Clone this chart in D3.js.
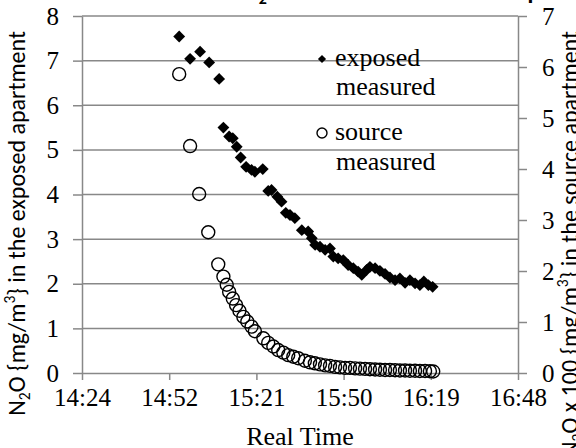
<!DOCTYPE html>
<html><head><meta charset="utf-8">
<script src="https://cdn.jsdelivr.net/npm/d3@7"></script>
</head>
<body style="margin:0">
<svg id="chart" width="576" height="448"></svg>
<script>
// ---- data ----
const xTickLabels = ["14:24","14:52","15:21","15:50","16:19","16:48"];
const leftTicks = [0,1,2,3,4,5,6,7,8];
const rightTicks = [0,1,2,3,4,5,6,7];

const exposedTime = ["14:56:06","14:59:42","15:03:00","15:06:00","15:09:18","15:10:42","15:12:36","15:13:48","15:15:06","15:16:24","15:18:12","15:20:00","15:21:06","15:23:42","15:25:30","15:26:36","15:28:30","15:29:54","15:31:18","15:32:42","15:34:18","15:36:36","15:38:42","15:39:54","15:41:00","15:42:36","15:44:18","15:45:54","15:47:00","15:48:36","15:50:18","15:51:54","15:53:36","15:55:12","15:56:24","15:58:00","15:59:06","16:00:48","16:02:24","16:04:06","16:05:42","16:07:24","16:09:00","16:10:42","16:12:18","16:14:00","16:15:36","16:16:54","16:18:24","16:19:48"];
const exposedValue = [7.54,7.04,7.20,6.96,6.59,5.50,5.30,5.26,5.07,4.83,4.62,4.55,4.51,4.57,4.08,4.10,3.95,3.84,3.59,3.54,3.47,3.20,3.17,3.02,2.87,2.83,2.76,2.79,2.61,2.57,2.53,2.42,2.35,2.27,2.20,2.31,2.38,2.35,2.29,2.22,2.14,2.08,2.12,2.02,2.08,2.01,1.97,2.05,1.97,1.93];

const sourceTime = ["14:56:06","14:59:42","15:02:42","15:05:42","15:09:00","15:10:42","15:11:48","15:12:36","15:13:48","15:14:54","15:16:00","15:17:18","15:18:36","15:20:00","15:21:06","15:23:54","15:25:30","15:27:12","15:28:48","15:30:30","15:32:06","15:33:48","15:35:24","15:37:36","15:39:18","15:40:54","15:42:36","15:44:18","15:45:54","15:47:36","15:49:12","15:50:54","15:52:30","15:54:12","15:55:48","15:57:30","15:59:06","16:00:48","16:02:24","16:04:06","16:05:42","16:07:24","16:09:00","16:10:42","16:12:18","16:14:00","16:15:36","16:17:18","16:18:54","16:20:00"];
const sourceValue = [5.86,4.45,3.51,2.76,2.13,1.89,1.73,1.59,1.46,1.33,1.22,1.10,1.01,0.91,0.82,0.68,0.59,0.52,0.45,0.40,0.35,0.32,0.29,0.24,0.21,0.19,0.17,0.15,0.14,0.12,0.11,0.10,0.10,0.09,0.085,0.08,0.075,0.07,0.065,0.06,0.06,0.055,0.05,0.05,0.045,0.045,0.04,0.04,0.035,0.03];

// ---- helpers ----
const toMin = s => { const p = s.split(":").map(Number); return p[0]*60 + p[1] + (p[2]||0)/60; };
const tMin = toMin(xTickLabels[0]), tMax = toMin(xTickLabels[xTickLabels.length-1]);
const xTickVals = xTickLabels.map((d,i) => tMin + i*(tMax - tMin)/(xTickLabels.length-1));

const L = 82, R = 518, T = 16, B = 373;
const svg = d3.select("#chart");
const x = d3.scaleLinear().domain([tMin, tMax]).range([L, R]);
const yL = d3.scaleLinear().domain([0, 8]).range([B, T]);
const yR = d3.scaleLinear().domain([0, 7]).range([B, T]);
const gridColor = "#888888";
const SERIF = '"Liberation Serif"';
const SANS = '"Carlito"';

// title (cut off at the top of the picture)
const title = svg.append("text").attr("x", 243).attr("y", -1)
  .style("font-family", SANS).style("font-size", "24px").style("font-weight", "bold").attr("fill", "#000");
title.append("tspan").text("N");
title.append("tspan").style("font-size", "16px").attr("dy", 5).text("2");
title.append("tspan").attr("dy", -5).text("O concentrations in the exposed apartment");

// gridlines
svg.append("g").selectAll("line").data(leftTicks.filter(d => d > 0)).join("line")
  .attr("x1", L).attr("x2", R).attr("y1", d => yL(d)).attr("y2", d => yL(d))
  .attr("stroke", gridColor).attr("stroke-width", 1.5);

function styleAxis(g){
  g.attr("font-family", null).attr("font-size", null);
  g.selectAll("path,line").attr("stroke", gridColor).attr("stroke-width", 1.5);
  g.selectAll("text").style("font-family", SERIF).style("font-size", "25px").attr("fill", "#000");
}

// left axis
svg.append("g").attr("transform", `translate(${L},0)`)
  .call(d3.axisLeft(yL).tickValues(leftTicks).tickSize(9).tickSizeOuter(0).tickPadding(14).tickFormat(d3.format("d")))
  .call(styleAxis);
// right axis
svg.append("g").attr("transform", `translate(${R},0)`)
  .call(d3.axisRight(yR).tickValues(rightTicks).tickSize(9).tickSizeOuter(0).tickPadding(15).tickFormat(d3.format("d")))
  .call(styleAxis);
// bottom axis
svg.append("g").attr("transform", `translate(0,${B})`)
  .call(d3.axisBottom(x).tickValues(xTickVals).tickSize(7).tickSizeOuter(0).tickPadding(8).tickFormat((d,i) => xTickLabels[i]))
  .call(styleAxis);

// source circles (right axis)
svg.append("g").selectAll("circle").data(sourceTime.map((t,i) => [toMin(t), sourceValue[i]])).join("circle")
  .attr("cx", d => x(d[0])).attr("cy", d => yR(d[1])).attr("r", 6.5)
  .attr("fill", "none").attr("stroke", "#000").attr("stroke-width", 1.4);

// exposed diamonds (left axis)
const diamond = d3.symbol().type(d3.symbolSquare).size(70);
svg.append("g").selectAll("path").data(exposedTime.map((t,i) => [toMin(t), exposedValue[i]])).join("path")
  .attr("d", diamond).attr("transform", d => `translate(${x(d[0])},${yL(d[1])}) rotate(45)`)
  .attr("fill", "#000");

// legend
const lg = svg.append("g").attr("fill", "#000");
lg.append("path").attr("d", d3.symbol().type(d3.symbolSquare).size(34)).attr("transform", "translate(322,59) rotate(45)").attr("fill", "#000");
lg.append("circle").attr("cx", 322).attr("cy", 133).attr("r", 5).attr("fill", "none").attr("stroke", "#000").attr("stroke-width", 1.4);
[["exposed",335,66],["measured",336,95],["source",335,140],["measured",336,170]].forEach(d => {
  lg.append("text").attr("x", d[1]).attr("y", d[2])
    .style("font-family", SERIF).style("font-size", "26px").text(d[0]);
});

// x axis title
svg.append("text").attr("x", (L + R)/2).attr("y", 445).attr("text-anchor", "middle")
  .style("font-family", SERIF).style("font-size", "26px").text("Real Time");

function axisTitle(xPos, parts, fs){
  const t = svg.append("text").attr("transform", `translate(${xPos},31) rotate(-90)`)
    .attr("text-anchor", "end").style("font-family", SANS).style("font-size", fs + "px").attr("fill", "#000");
  parts.forEach(p => {
    const s = t.append("tspan").text(p.t);
    if (p.sub) s.style("font-size", (fs*0.65) + "px").attr("dy", fs*0.22);
    if (p.sup) s.style("font-size", (fs*0.65) + "px").attr("dy", -fs*0.4);
    if (p.back) s.attr("dy", p.back);
  });
  return t;
}
const f = 24;
axisTitle(25, [{t:"N"},{t:"2",sub:1},{t:"O {mg/m",back:-f*0.22},{t:"3",sup:1},{t:"} in the exposed apartment",back:f*0.4}], f);
axisTitle(578, [{t:"N"},{t:"2",sub:1},{t:"O x 100 {mg/m",back:-f*0.22},{t:"3",sup:1},{t:"} in the source apartment",back:f*0.4}], f);
</script>
</body></html>
